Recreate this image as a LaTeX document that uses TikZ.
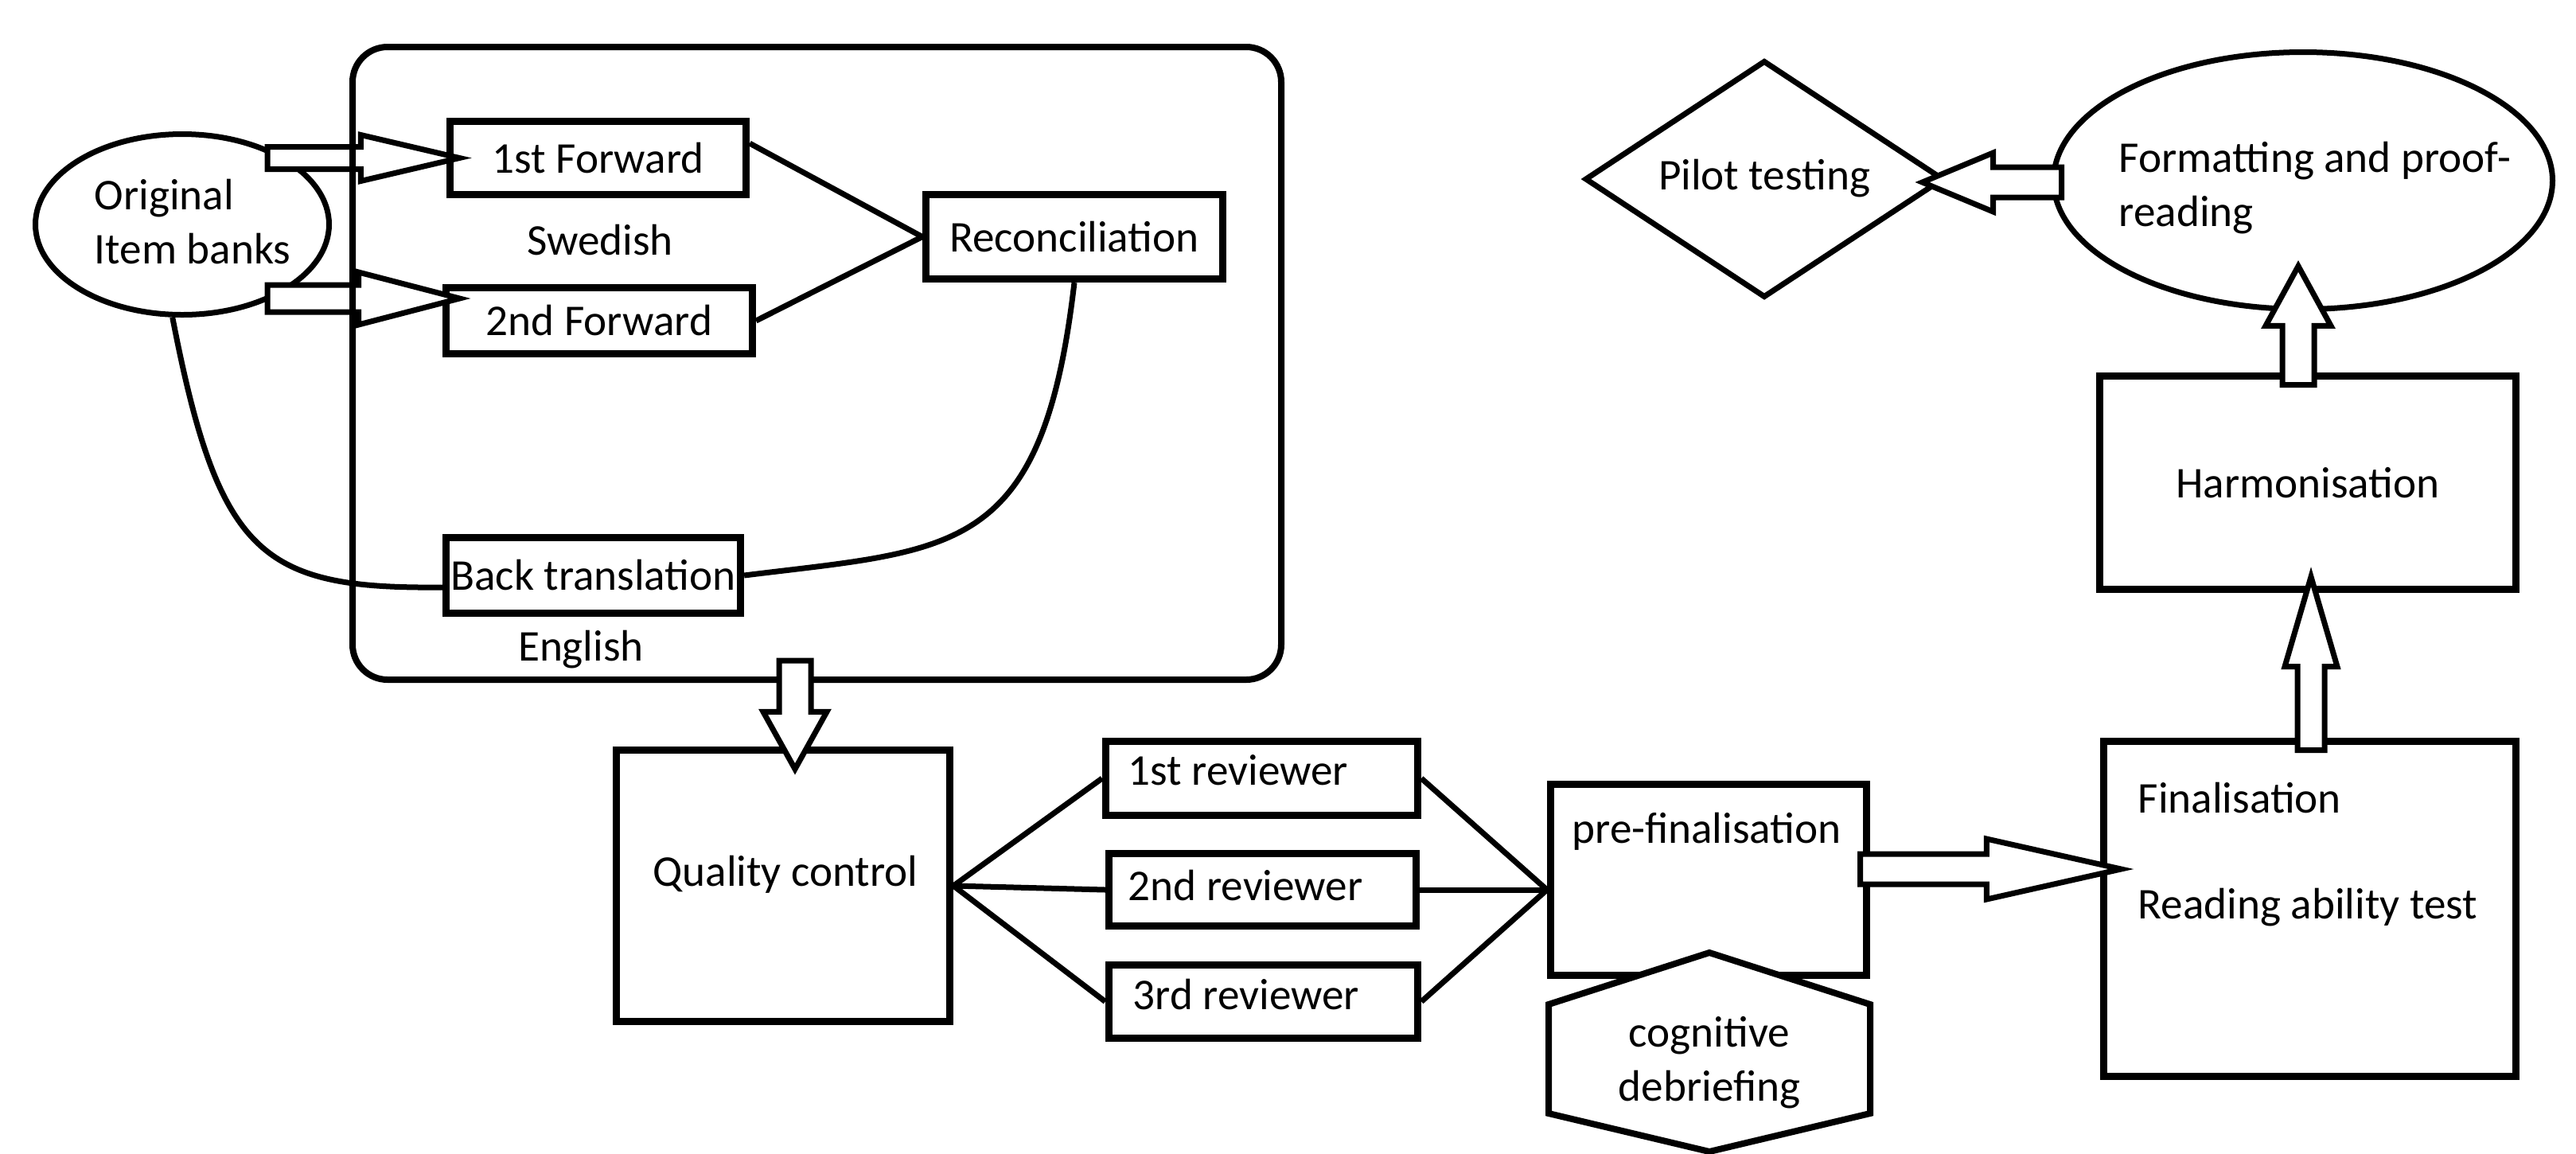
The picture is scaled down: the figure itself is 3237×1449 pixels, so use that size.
\documentclass[tikz,border=0pt]{standalone}
\usepackage{fontspec}
\setmainfont{Carlito}
\usetikzlibrary{shapes.geometric,calc}
\def\pxu{0.25pt}
\tikzset{
  txt/.style={font=\fontsize{13.8pt}{17pt}\selectfont, inner sep=0pt},
  boxn/.style={draw, line width=2.3pt, rectangle, inner sep=0pt, txt},
  ovaln/.style={draw, line width=1.75pt, ellipse, inner sep=0pt},
  conn/.style={line width=1.75pt},
  barrow/.style={draw, fill=white, line width=1.75pt, line join=miter},
  barrowH/.style n args={3}{to path={let \p1=(\tikztostart), \p2=(\tikztotarget) in
     (\x1,{\y2+#1}) -- ({\x2-(#3)},{\y2+#1}) -- ({\x2-(#3)},{\y2+#2}) -- (\x2,\y2) -- ({\x2-(#3)},{\y2-#2}) -- ({\x2-(#3)},{\y2-#1}) -- (\x1,{\y2-#1}) -- cycle}},
  barrowV/.style n args={3}{to path={let \p1=(\tikztostart), \p2=(\tikztotarget) in
     ({\x2+#1},\y1) -- ({\x2+#1},{\y2-(#3)}) -- ({\x2+#2},{\y2-(#3)}) -- (\x2,\y2) -- ({\x2-#2},{\y2-(#3)}) -- ({\x2-#1},{\y2-(#3)}) -- ({\x2-#1},\y1) -- cycle}},
}
\begin{document}
\begin{tikzpicture}[x=0.25pt,y=-0.25pt]
\useasboundingbox (0,0) rectangle (3237,1449);

% left group
\node[ovaln, minimum width=369*\pxu, minimum height=227*\pxu] (orig) at (229,282) {};
\node[txt, align=left] (origt) at (242,279) {Original\\Item banks};
\node[boxn, minimum width=372*\pxu, minimum height=92*\pxu] (f1) at (751.5,198.5) {1st Forward};
\node[boxn, minimum width=385*\pxu, minimum height=83*\pxu] (f2) at (753,403) {2nd Forward};

\draw[barrow] ([xshift=26.75pt]orig.center) to[barrowH={3.5pt}{7.25pt}{31pt}] ([xshift=4.1pt]f1.west);
\draw[barrow] ([xshift=26.75pt]orig.center) to[barrowH={4.25pt}{8.25pt}{31.75pt}] ([xshift=5.4pt,yshift=7pt]f2.west);

\node[draw, line width=2pt, rectangle, rounded corners=11pt, minimum width=1167*\pxu, minimum height=795*\pxu] (grp) at (1026.5,456.5) {};

\node[boxn, minimum width=373*\pxu, minimum height=106*\pxu] (rec) at (1350,297.5) {Reconciliation};
\node[boxn, minimum width=370*\pxu, minimum height=95*\pxu] (bt) at (745.5,723) {Back translation};
\node[txt] (swe) at (754,302) {Swedish};
\node[txt] (eng) at (730,816) {English};

\draw[conn] ([yshift=4.6pt]f1.east) -- (rec.west);
\draw[conn] (f2.east) -- (rec.west);
\draw[conn] (rec.south) .. controls (1310,700) and (1200,690) .. (bt.east);
\draw[conn] (orig.-96) .. controls (275,700) and (330,740) .. ([yshift=-3.75pt]bt.west);

% quality control and reviewers
\node[boxn, minimum width=419*\pxu, minimum height=341*\pxu] (qc) at (984,1113) {};
\node[txt] (qct) at (987,1099) {Quality control};
\draw[barrow] ([yshift=7pt]grp.south) to[barrowV={5pt}{10pt}{-18pt}] ([xshift=3.75pt,yshift=-7.1pt]qc.north);

\node[boxn, minimum width=392*\pxu, minimum height=93*\pxu] (r1) at (1585.5,978) {};
\node[boxn, minimum width=386*\pxu, minimum height=91*\pxu] (r2) at (1586.5,1118) {};
\node[boxn, minimum width=388*\pxu, minimum height=92*\pxu] (r3) at (1587.5,1258.5) {};
\node[txt, anchor=west] (r1t) at (1417,968) {1st reviewer};
\node[txt, anchor=west] (r2t) at (1417,1113) {2nd reviewer};
\node[txt, anchor=west] (r3t) at (1423,1250) {3rd reviewer};

\node[boxn, minimum width=397*\pxu, minimum height=240*\pxu] (pre) at (2147,1105.5) {};
\node[txt, anchor=west] (pret) at (1975,1045) {pre-finalisation};
\coordinate (pj) at (pre.west |- r2.east);

\draw[conn] (qc.east) -- (r1.west);
\draw[conn] (qc.east) -- (r2.west);
\draw[conn] (qc.east) -- (r3.west);
\draw[conn] (r1.east) -- (pj);
\draw[conn] (r2.east) -- (pj);
\draw[conn] (r3.east) -- (pj);

\draw[line width=2pt, fill=white, line join=miter] (2148,1197) -- (2350,1262) -- (2350,1399) -- (2148,1447) -- (1946,1399) -- (1946,1262) -- cycle;
\node[txt, align=center] (cog) at (2148,1335) {cognitive\\debriefing};

% right side
\node[boxn, minimum width=518*\pxu, minimum height=421*\pxu] (fin) at (2902.5,1142) {};
\node[txt, anchor=west] (fint1) at (2686,1003) {Finalisation};
\node[txt, anchor=west] (fint2) at (2686,1140) {Reading ability test};
\node[boxn, minimum width=523*\pxu, minimum height=268*\pxu] (harm) at (2900,606.5) {Harmonisation};
\node[ovaln, minimum width=627*\pxu, minimum height=323*\pxu] (fmt) at (2894,227) {};
\node[txt, align=left] (fmtt) at (2909,236) {Formatting and proof-\\reading};
\node[draw, line width=1.75pt, diamond, inner sep=0pt, minimum width=451*\pxu, minimum height=298*\pxu] (pilot) at (2217,225) {};
\node[txt] (pilott) at (2217,224) {Pilot testing};

\draw[barrow] ([xshift=-3.1pt]pre.east) to[barrowH={4.75pt}{9.5pt}{42.25pt}] ([xshift=6.6pt,yshift=12.5pt]fin.west);
\draw[barrow] ([yshift=-3.9pt]fin.north) to[barrowV={4.25pt}{8.25pt}{28.25pt}] ([xshift=1pt,yshift=5.1pt]harm.south);
\draw[barrow] ([yshift=-3.9pt]harm.north) to[barrowV={5pt}{10.25pt}{18.75pt}] ([xshift=-1.5pt,yshift=14.4pt]fmt.south);
\draw[barrow] ([xshift=3.4pt]fmt.west) to[barrowH={4.75pt}{9.25pt}{-22.25pt}] ([xshift=-7.6pt,yshift=-1pt]pilot.east);
\end{tikzpicture}
\end{document}
